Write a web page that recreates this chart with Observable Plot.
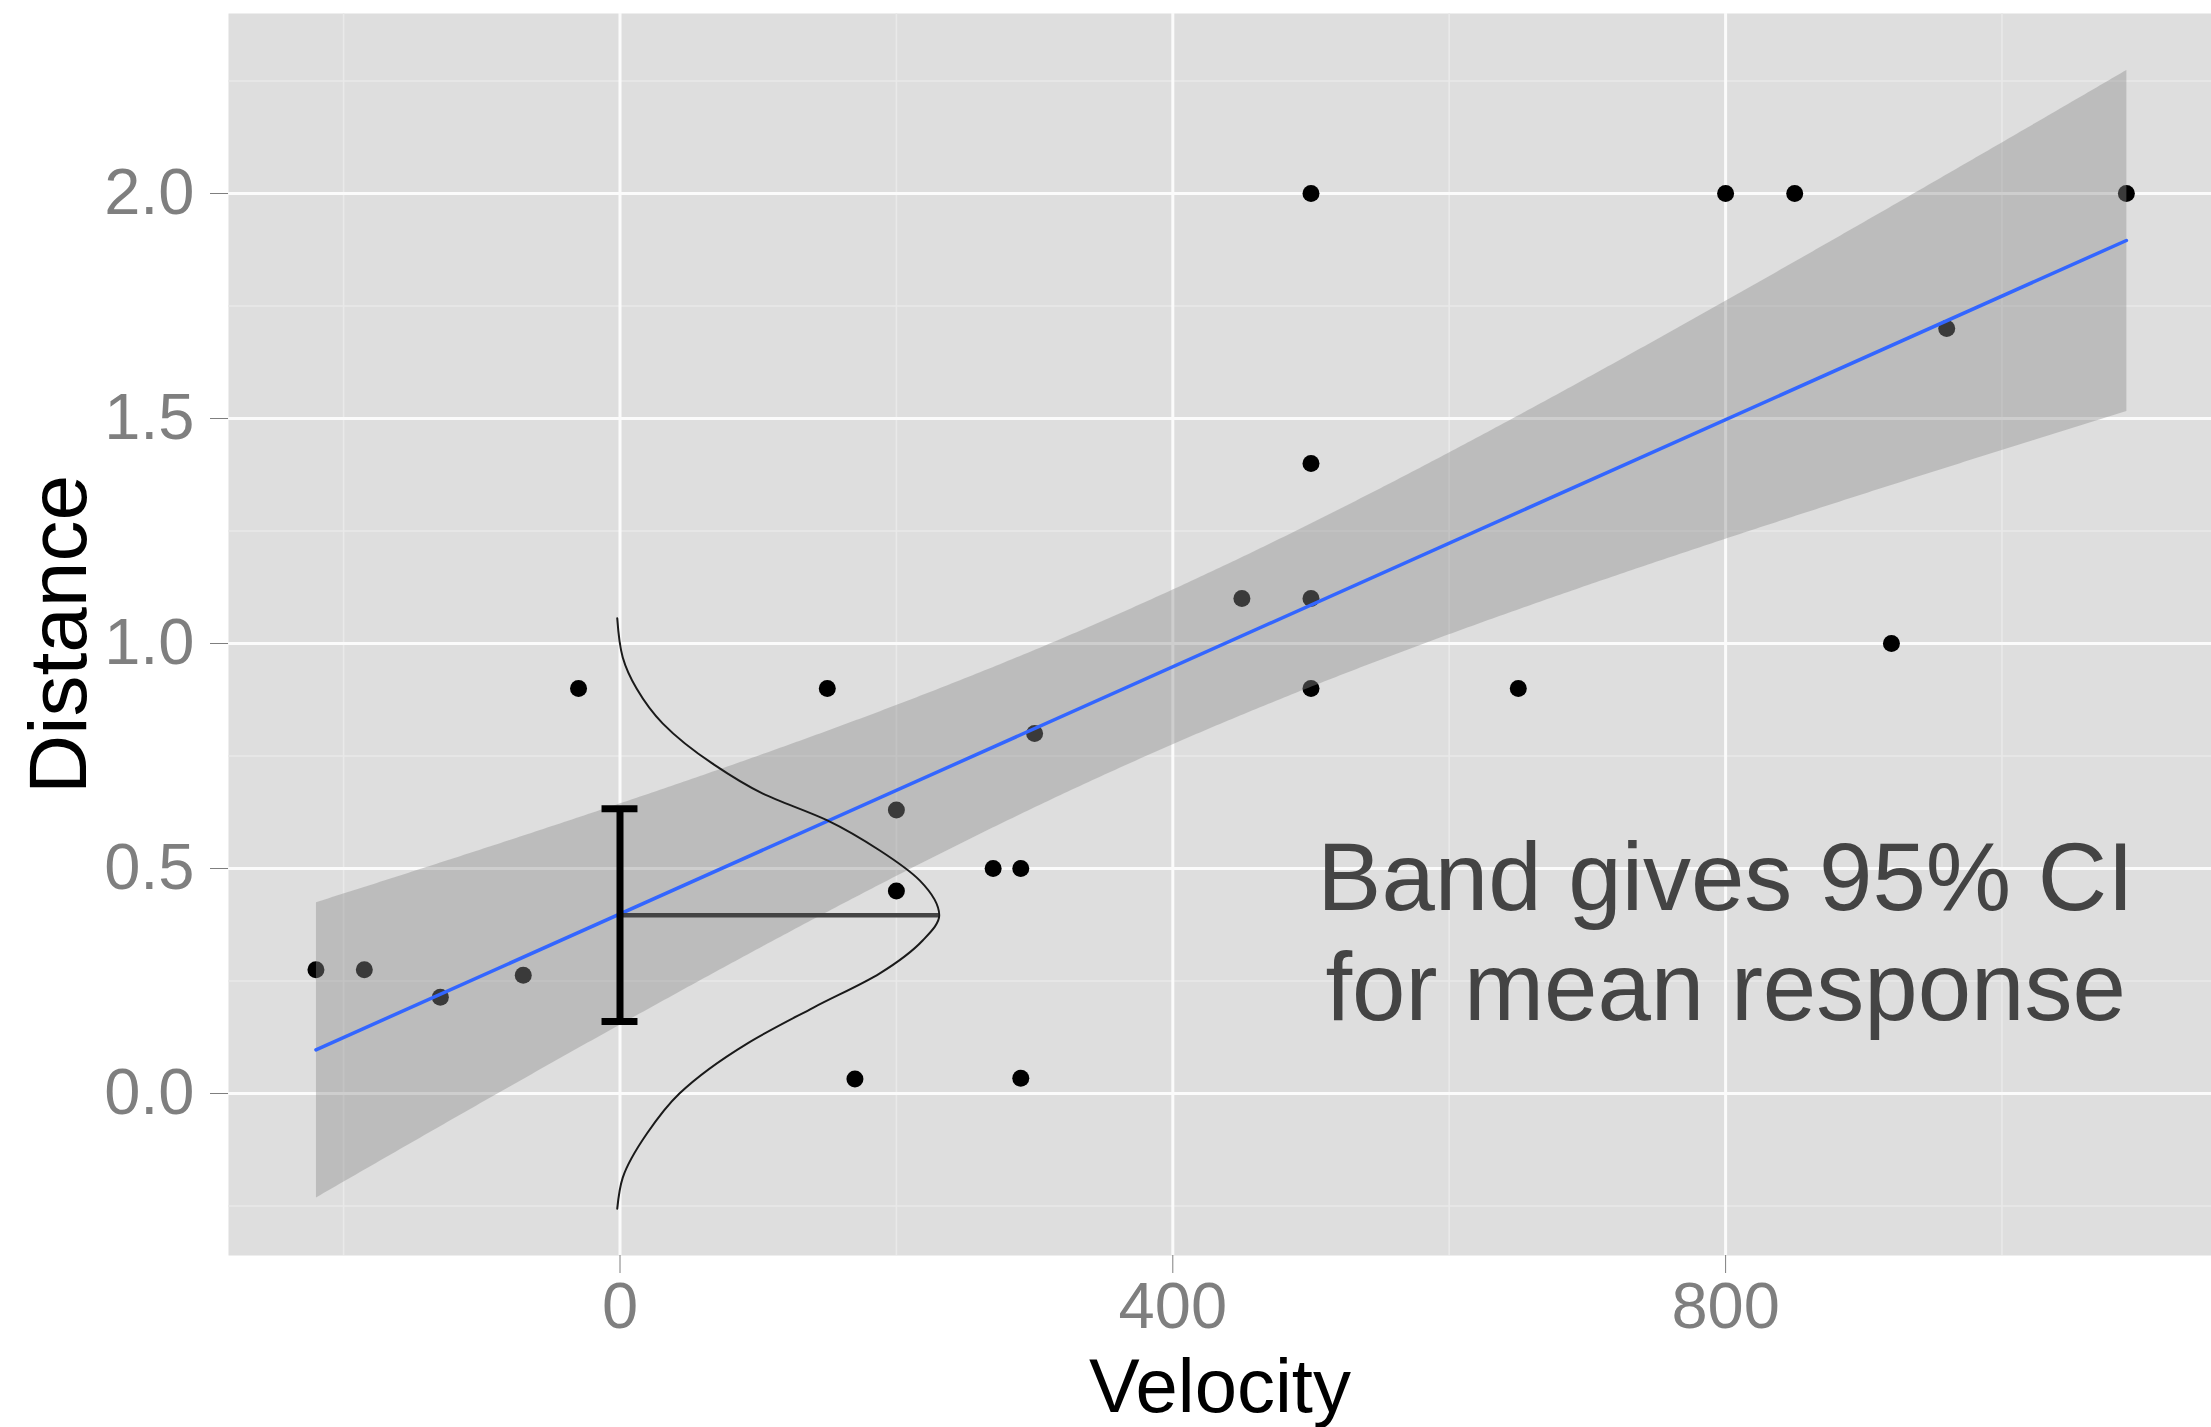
<!DOCTYPE html>
<html>
<head>
<meta charset="utf-8">
<script src="https://cdn.jsdelivr.net/npm/d3@7"></script>
<script src="https://cdn.jsdelivr.net/npm/@observablehq/plot@0.6"></script>
<style>
  html, body { margin: 0; padding: 0; background: #ffffff; }
  #chart svg { display: block; }
</style>
</head>
<body>
<div id="chart"></div>
<script>
// Hubble data: velocity (km/s) and distance (Mpc)
const velocity = [-220, -185, -130, -70, -30, 150, 170, 200, 200, 270, 290, 290, 300, 450, 500, 500, 500, 500, 650, 800, 850, 920, 960, 1090];
const distance = [0.275, 0.275, 0.214, 0.263, 0.9, 0.9, 0.032, 0.63, 0.45, 0.5, 0.5, 0.034, 0.8, 1.1, 2.0, 1.4, 1.1, 0.9, 0.9, 2.0, 2.0, 1.0, 1.7, 2.0];

// axis ticks
const xTicks = [0, 400, 800];
const yTicks = [0, 0.5, 1.0, 1.5, 2.0];
const xMinor = [-200, 200, 600, 1000];
const yMinor = [-0.25, 0.25, 0.75, 1.25, 1.75, 2.25];

// 95% CI for the mean response at Velocity = 0
const ciVelocity = [0];
const ciLow = [0.16];
const ciHigh = [0.633];

// sketched sampling distribution drawn sideways at Velocity = 0
const curveDistance = [1.056, 0.969, 0.9, 0.822, 0.733, 0.667, 0.607, 0.540, 0.473, 0.396, 0.340, 0.267, 0.191, 0.111, 0.000, -0.089, -0.187, -0.256];
const curveVelocity = [-2, 2, 12, 31, 67, 103, 150, 188, 217, 231, 219, 188, 140, 92, 43, 19.5, 2, -2];

// annotation
const noteText = ["Band gives 95% CI\nfor mean response"];
const noteVelocity = [800];
const noteDistance = [0.164];

(function () {
  const points = velocity.map((v, i) => ({v, d: distance[i]}));
  const curve = curveVelocity.map((v, i) => ({v, d: curveDistance[i]}));
  const peak = curve.reduce((a, b) => (b.v > a.v ? b : a));
  const ci = ciVelocity.map((v, i) => ({v, lo: ciLow[i], hi: ciHigh[i]}));
  const capHalf = 13;
  const notes = noteText.map((t, i) => ({t, v: noteVelocity[i], d: noteDistance[i]}));

  const W = 2211, H = 1427;
  const mLeft = 228, mTop = 13, mBottom = 172, mRight = 0;
  const pxPerV = 1.382, zeroX = 619.5;
  const pxPerD = 450, zeroY = 1093;

  const chart = Plot.plot({
    width: W,
    height: H,
    marginLeft: mLeft,
    marginTop: mTop,
    marginRight: mRight,
    marginBottom: mBottom,
    style: {fontFamily: "'Liberation Sans', Arial, Helvetica, sans-serif", background: "#ffffff"},
    x: {domain: [(mLeft - zeroX) / pxPerV, (W - mRight - zeroX) / pxPerV]},
    y: {domain: [(zeroY - (H - mBottom)) / pxPerD, (zeroY - mTop) / pxPerD]},
    marks: [
      Plot.frame({fill: "#dedede", stroke: "none"}),
      Plot.ruleX(xMinor, {stroke: "#e9e9e9", strokeWidth: 1.6}),
      Plot.ruleY(yMinor, {stroke: "#e9e9e9", strokeWidth: 1.6}),
      Plot.ruleX(xTicks, {stroke: "#fbfbfb", strokeWidth: 3}),
      Plot.ruleY(yTicks, {stroke: "#fbfbfb", strokeWidth: 3}),
      Plot.dot(points, {x: "v", y: "d", r: 8.5, fill: "#000000", stroke: "none"}),
      Plot.linearRegressionY(points, {x: "v", y: "d", ci: 0.95, stroke: "#3366ff", strokeWidth: 3.5, fill: "#8d8d8d", fillOpacity: 0.41}),
      Plot.ruleY([peak], {x1: 0, x2: "v", y: "d", stroke: "#444444", strokeWidth: 4.5}),
      Plot.ruleX(ci, {x: "v", y1: "lo", y2: "hi", stroke: "#000000", strokeWidth: 7}),
      Plot.ruleY(ci, {y: "lo", x1: d => d.v - capHalf, x2: d => d.v + capHalf, stroke: "#000000", strokeWidth: 7}),
      Plot.ruleY(ci, {y: "hi", x1: d => d.v - capHalf, x2: d => d.v + capHalf, stroke: "#000000", strokeWidth: 7}),
      Plot.line(curve, {x: "v", y: "d", curve: "monotone-y", stroke: "#1a1a1a", strokeWidth: 2}),
      Plot.text(notes, {x: "v", y: "d", text: "t", fontSize: 96, lineHeight: 1.146, lineAnchor: "bottom", textAnchor: "middle", fill: "#444444"}),
      Plot.axisX(xTicks, {tickSize: 18, tickPadding: 8, fontSize: 65, color: "#7f7f7f", label: null}),
      Plot.axisY(yTicks, {tickSize: 18, tickPadding: 16, fontSize: 65, color: "#7f7f7f", tickFormat: d3.format(".1f"), label: null}),
      Plot.text(["Velocity"], {frameAnchor: "bottom", dy: 156, lineAnchor: "bottom", fontSize: 76, fill: "#000000", textAnchor: "middle"}),
      Plot.text(["Distance"], {frameAnchor: "left", dx: -143, rotate: -90, lineAnchor: "bottom", fontSize: 82, fill: "#000000", textAnchor: "middle"})
    ]
  });
  document.getElementById("chart").appendChild(chart);
})();
</script>
</body>
</html>
